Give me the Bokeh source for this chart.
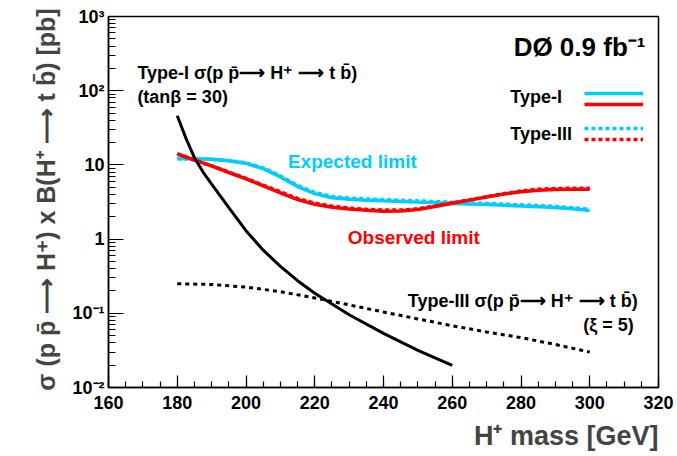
from bokeh.plotting import figure
from bokeh.models import (Label, Title, Legend, LegendItem, LogTicker,
                          SingleIntervalTicker, CustomJSTickFormatter, Range1d)
from bokeh.embed import file_html
from bokeh.resources import INLINE

# ---------------- data ----------------
mass = [180, 185, 190, 195, 200, 205, 210, 215, 220, 225, 230, 235, 240,
        245, 250, 255, 260, 265, 270, 275, 280, 285, 290, 295, 300]
exp_type1 = [12.1, 12.1, 11.9, 11.4, 10.5, 8.9, 6.9, 5.1, 4.1, 3.6, 3.45, 3.35, 3.28,
             3.22, 3.15, 3.08, 3.02, 2.97, 2.92, 2.86, 2.80, 2.73, 2.66, 2.56, 2.43]
obs_type1 = [14.1, 11.6, 9.7, 7.9, 6.5, 5.2, 4.2, 3.4, 2.95, 2.68, 2.55, 2.45, 2.38,
             2.40, 2.50, 2.75, 3.05, 3.35, 3.7, 4.05, 4.35, 4.55, 4.65, 4.7, 4.7]
exp_type3 = [12.1, 12.1, 11.9, 11.4, 10.6, 9.1, 7.1, 5.3, 4.25, 3.75, 3.58, 3.48, 3.40,
             3.33, 3.27, 3.20, 3.14, 3.08, 3.03, 2.96, 2.90, 2.83, 2.76, 2.65, 2.52]
obs_type3 = [14.1, 11.6, 9.7, 8.0, 6.6, 5.35, 4.35, 3.52, 3.05, 2.78, 2.62, 2.52, 2.46,
             2.46, 2.56, 2.80, 3.08, 3.38, 3.72, 4.1, 4.45, 4.7, 4.8, 4.85, 4.85]

theory1_mass = [180, 182.5, 185, 187.5, 190, 195, 200, 205, 210, 215, 220, 230, 240, 250, 260]
theory1_xsec = [46, 23, 12.5, 8.0, 5.5, 2.65, 1.3, 0.71, 0.43, 0.275, 0.186,
                0.0955, 0.0537, 0.0316, 0.0198]

theory3_mass = [180, 190, 200, 210, 220, 230, 240, 250, 260, 270, 280, 290, 300]
theory3_xsec = [0.25, 0.245, 0.225, 0.196, 0.161, 0.130, 0.104, 0.084, 0.068,
                0.056, 0.047, 0.038, 0.030]

ARROW = "\u27f6"
x_title = "H\u207a mass [GeV]"
y_title = "\u03c3 (p p\u0304 " + ARROW + " H\u207a) x B(H\u207a " + ARROW + " t b\u0304) [pb]"

FONT = "Liberation Sans"
CYAN = "#00ccff"
RED = "#ff0000"

p = figure(frame_width=550, frame_height=371,
           x_range=Range1d(160, 320), y_range=Range1d(0.01, 1000),
           y_axis_type="log", output_backend="svg", toolbar_location=None,
           min_border_left=108, min_border_right=19, min_border_top=16,
           min_border_bottom=69)
p.grid.visible = False
p.outline_line_color = "black"
p.outline_line_width = 1.5
p.background_fill_color = "white"
p.border_fill_color = "white"

# axes
p.xaxis.ticker = SingleIntervalTicker(interval=20, num_minor_ticks=4)
p.yaxis.ticker = LogTicker(num_minor_ticks=10, desired_num_ticks=6)
p.yaxis.formatter = CustomJSTickFormatter(code="""
const e = Math.round(Math.log10(tick));
if (e === 0) return "1";
if (e === 1) return "10";
const sup = {"-": "\u207b", "0": "\u2070", "1": "\u00b9", "2": "\u00b2", "3": "\u00b3",
             "4": "\u2074", "5": "\u2075"};
return "10" + String(e).split("").map(c => sup[c]).join("");
""")
for ax in (p.xaxis[0], p.yaxis[0]):
    ax.axis_line_width = 1.5
    ax.major_tick_line_width = 1.2
    ax.minor_tick_line_width = 1.2
    ax.major_tick_out = 0
    ax.minor_tick_out = 0
    ax.major_label_text_font = FONT
    ax.major_label_text_font_style = "bold"
    ax.major_label_text_font_size = "18px"
    ax.major_label_text_color = "black"
p.xaxis.major_tick_in = 12
p.xaxis.minor_tick_in = 6
p.yaxis.major_tick_in = 15
p.yaxis.minor_tick_in = 7
p.xaxis.major_label_standoff = 8
p.yaxis.major_label_standoff = 4

p.add_layout(Title(text=x_title, align="right", text_font=FONT, text_font_style="bold",
                   text_font_size="27px", standoff=14), "below")
p.add_layout(Title(text=y_title, align="center", text_font=FONT, text_font_style="bold",
                   text_font_size="25px", standoff=20), "left")

# curves
r_exp1 = p.line(mass, exp_type1, line_color=CYAN, line_width=3.5)
r_exp3 = p.line(mass, exp_type3, line_color=CYAN, line_width=3.5, line_dash="4 3")
r_obs1 = p.line(mass, obs_type1, line_color=RED, line_width=3.5)
r_obs3 = p.line(mass, obs_type3, line_color=RED, line_width=3.5, line_dash="4 3")
p.line(theory1_mass, theory1_xsec, line_color="black", line_width=3)
p.line(theory3_mass, theory3_xsec, line_color="black", line_width=3, line_dash="4 4")

# legends (text to the left of the lines, as in the reference)
def make_legend(r_top, r_bottom, loc):
    return Legend(items=[LegendItem(label=" ", renderers=[r_top]),
                         LegendItem(label=" ", renderers=[r_bottom])],
                  location=loc, orientation="vertical", padding=0, margin=0,
                  spacing=1, glyph_width=59, glyph_height=10, label_height=10,
                  label_width=0, label_standoff=0, label_text_font_size="1px",
                  border_line_color=None, background_fill_alpha=0)

p.add_layout(make_legend(r_exp1, r_obs1, (476, 278)))
p.add_layout(make_legend(r_exp3, r_obs3, (476, 243)))

def lab(x, y, text, size, color="black", align="left"):
    p.add_layout(Label(x=x, y=y, text=text, text_font=FONT, text_font_style="bold",
                       text_font_size=size, text_color=color, text_align=align,
                       text_baseline="middle"))

lab(276.9, 81.7, "Type-I", "18px")
lab(276.9, 25.8, "Type-III", "18px")
lab(316.2, 385, "D\u00d8 0.9 fb\u207b\u00b9", "26px", align="right")
lab(168.4, 173, "Type-I \u03c3(p p\u0304" + ARROW + " H\u207a " + ARROW + " t b\u0304)", "18px")
lab(168.4, 81.7, "(tan\u03b2 = 30)", "18px")
lab(312.8, 0.145, "Type-III \u03c3(p p\u0304" + ARROW + " H\u207a " + ARROW + " t b\u0304)", "18px",
    align="right")
lab(312.8, 0.0686, "(\u03be = 5)", "18px", align="right")
lab(212.2, 11.0, "Expected limit", "19px", color=CYAN)
lab(229.6, 1.06, "Observed limit", "19px", color=RED)

open("out.html", "w").write(file_html(p, INLINE))
